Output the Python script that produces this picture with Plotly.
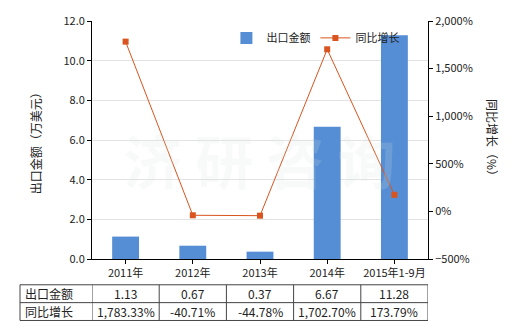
import plotly.graph_objects as go

categories = ["2011年", "2012年", "2013年", "2014年", "2015年1-9月"]
export_values = [1.13, 0.67, 0.37, 6.67, 11.28]
growth_values = [1783.33, -40.71, -44.78, 1702.70, 173.79]
export_labels = ["1.13", "0.67", "0.37", "6.67", "11.28"]
growth_labels = ["1,783.33%", "-40.71%", "-44.78%", "1,702.70%", "173.79%"]
row_names = ["出口金额", "同比增长"]

FONT = "Noto Sans CJK SC"
BAR_C = "#558ed5"
LINE_C = "#d9541e"
GRID_C = "#e3e3e3"
TABLE_C = "#444444"

fig = go.Figure()
fig.add_trace(go.Bar(
    x=list(range(len(categories))), y=export_values, name="出口金额",
    marker=dict(color=BAR_C, line=dict(width=0)), width=0.4, yaxis="y"))
fig.add_trace(go.Scatter(
    x=list(range(len(categories))), y=growth_values, name="同比增长",
    mode="lines+markers", line=dict(color=LINE_C, width=1),
    marker=dict(symbol="square", size=6, color=LINE_C), yaxis="y2"))

fig.update_layout(
    width=520, height=330,
    margin=dict(l=92, r=92, t=19, b=71),
    paper_bgcolor="white", plot_bgcolor="white",
    font=dict(family=FONT, size=11, color="#222"),
    bargap=0.6,
    showlegend=True,
    legend=dict(orientation="h", x=0.4, y=0.99, xanchor="left", yanchor="top",
                bgcolor="rgba(0,0,0,0)", font=dict(size=11, family=FONT),
                itemwidth=30, tracegroupgap=0),
    xaxis=dict(tickmode="array", tickvals=list(range(len(categories))), ticktext=categories,
               range=[-0.5, 4.5], showline=True, linecolor="black", linewidth=1,
               ticks="outside", ticklen=4, tickcolor="black", showgrid=False,
               tickfont=dict(size=11, family=FONT)),
    yaxis=dict(range=[0, 12], dtick=2, tickformat=".1f", showline=True, linecolor="black",
               ticks="outside", ticklen=4, tickcolor="black", gridcolor=GRID_C,
               zeroline=False, tickfont=dict(size=11, family=FONT)),
    yaxis2=dict(range=[-500, 2000], dtick=500, tickformat=",d", ticksuffix="%",
                overlaying="y", side="right", showline=True, linecolor="black",
                ticks="outside", ticklen=4, tickcolor="black", showgrid=False,
                zeroline=False, tickfont=dict(size=11, family=FONT)),
)

ann = []
# watermark
ann.append(dict(text="<b>济 研 咨 询</b>", x=0.5, y=0.42, xref="paper", yref="paper", showarrow=False,
                font=dict(size=58, color="rgba(215,225,220,0.18)", family=FONT)))
# axis titles
ann.append(dict(text="出口金额（万美元）", x=-0.2, y=0.5, xref="paper", yref="paper",
                showarrow=False, textangle=-90, font=dict(size=12, family=FONT)))
ann.append(dict(text="同比增长（%）", x=1.225, y=0.5, xref="paper", yref="paper",
                showarrow=False, textangle=90, font=dict(size=12, family=FONT)))

def py(p):
    return (259 - p) / 240.0

row_y = [py(294), py(312)]
for r, (name, labels) in enumerate(zip(row_names, [export_labels, growth_labels])):
    ann.append(dict(text=name, x=-0.206, y=row_y[r], xref="paper", yref="paper",
                    xanchor="left", yanchor="middle", showarrow=False,
                    font=dict(size=12, family=FONT)))
    for i, t in enumerate(labels):
        ann.append(dict(text=t, x=i, y=row_y[r], xref="x", yref="paper",
                        xanchor="center", yanchor="middle",
                        showarrow=False, font=dict(size=12, family=FONT)))
fig.update_layout(annotations=ann)

shapes = []
x_left = (20 - 92) / 336.0
for p in [285, 303, 321]:
    shapes.append(dict(type="line", xref="paper", yref="paper", x0=x_left, x1=1.0,
                       y0=py(p), y1=py(p), line=dict(color=TABLE_C, width=1)))
shapes.append(dict(type="line", xref="paper", yref="paper", x0=x_left, x1=x_left,
                   y0=py(285), y1=py(321), line=dict(color=TABLE_C, width=1)))
for k in range(len(categories) + 1):
    shapes.append(dict(type="line", xref="x", yref="paper", x0=k - 0.5, x1=k - 0.5,
                       y0=py(285), y1=py(321), line=dict(color=TABLE_C, width=1)))
fig.update_layout(shapes=shapes)

fig.write_html("out.html")
